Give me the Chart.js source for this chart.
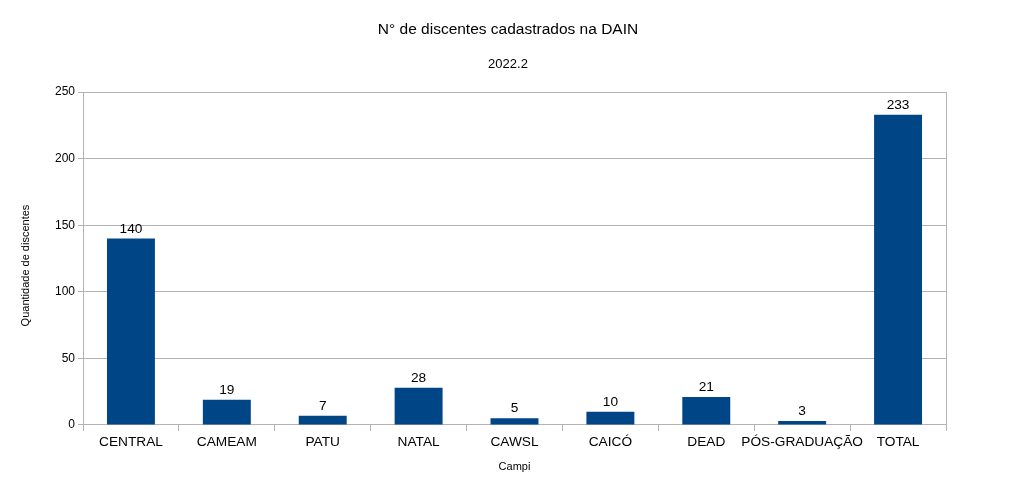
<!DOCTYPE html>
<html><head><meta charset="utf-8">
<script src="https://cdn.jsdelivr.net/npm/chart.js@4"></script>
<style>html,body{margin:0;padding:0;background:#fff}#wrap{width:1016px;height:492px}</style>
</head><body><div id="wrap"><canvas id="c" width="1016" height="492"></canvas></div>
<script>
const categories = ['CENTRAL','CAMEAM','PATU','NATAL','CAWSL','CAICÓ','DEAD','PÓS-GRADUAÇÃO','TOTAL'];
const values = [140,19,7,28,5,10,21,3,233];
const yTicks = [0,50,100,150,200,250];
const titleText = 'N° de discentes cadastrados na DAIN';
const subtitleText = '2022.2';
const yTitle = 'Quantidade de discentes';
const xTitle = 'Campi';

const FONT = "'Liberation Sans', Arial, sans-serif";

const labelPlugin = {
  id: 'labels',
  afterDatasetsDraw(chart) {
    const ctx = chart.ctx;
    const meta = chart.getDatasetMeta(0);
    ctx.save();
    ctx.font = '13.7px ' + FONT;
    ctx.fillStyle = '#000';
    ctx.textAlign = 'center';
    ctx.textBaseline = 'alphabetic';
    meta.data.forEach((bar, i) => {
      ctx.fillText(String(values[i]), bar.x, bar.y - 6);
    });
    ctx.restore();
  }
};
const yTitlePlugin = {
  id: 'yTitle',
  afterDraw(chart) {
    const a = chart.chartArea, ctx = chart.ctx;
    ctx.save();
    ctx.font = '11px ' + FONT;
    ctx.fillStyle = '#000';
    ctx.textAlign = 'center';
    ctx.textBaseline = 'middle';
    ctx.translate(26, (a.top + a.bottom) / 2 + 7);
    ctx.rotate(-Math.PI / 2);
    ctx.fillText(yTitle, 0, 0);
    ctx.restore();
  }
};

new Chart(document.getElementById('c'), {
  type: 'bar',
  data: {
    labels: categories,
    datasets: [{ data: values, backgroundColor: '#004586', borderWidth: 0, categoryPercentage: 1, barPercentage: 0.5 }]
  },
  options: {
    responsive: false,
    animation: false,
    devicePixelRatio: 1,
    layout: { padding: { left: 14, right: 14, top: 10, bottom: 7 } },
    plugins: {
      legend: { display: false },
      tooltip: { enabled: false },
      title: { display: true, text: titleText, color: '#000', font: { family: FONT, size: 15.5, weight: 'normal' }, padding: { top: 10, bottom: 17.6 } },
      subtitle: { display: true, text: subtitleText, color: '#000', font: { family: FONT, size: 13, weight: 'normal' }, padding: { top: 0, bottom: 20.3 } }
    },
    scales: {
      x: {
        grid: { display: true, drawOnChartArea: false, drawTicks: true, tickLength: 6, color: '#b3b3b3', offset: true },
        border: { display: true, color: '#b3b3b3' },
        ticks: { color: '#000', font: { family: FONT, size: 13.7 }, padding: 3, maxRotation: 0, autoSkip: false },
        title: { display: true, text: xTitle, color: '#000', font: { family: FONT, size: 11 }, padding: { top: 7, bottom: 11.4 } }
      },
      y: {
        min: yTicks[0], max: yTicks[yTicks.length - 1],
        afterBuildTicks(scale) { scale.ticks = yTicks.map(v => ({ value: v })); },
        afterFit(scale) { scale.width = 69; },
        ticks: { color: '#000', font: { family: FONT, size: 12 }, padding: 3 },
        grid: { color: '#b3b3b3', tickLength: 5 },
        border: { display: true, color: '#b3b3b3' }
      },
      y2: {
        position: 'right',
        display: true,
        afterFit(scale) { scale.width = 56; },
        ticks: { display: false },
        grid: { display: true, drawOnChartArea: false, drawTicks: false },
        border: { display: true, color: '#b3b3b3' }
      }
    }
  },
  plugins: [labelPlugin, yTitlePlugin]
});
</script>
</body></html>
